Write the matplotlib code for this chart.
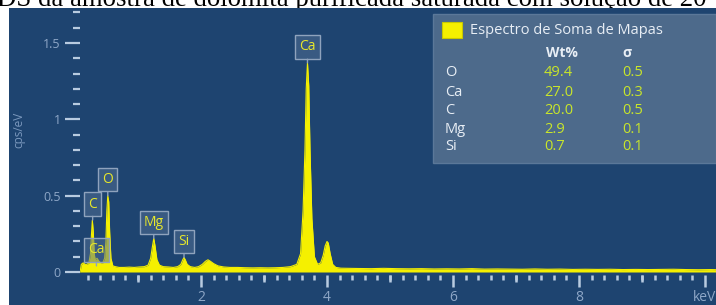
import matplotlib
matplotlib.use("Agg")
import matplotlib.pyplot as plt
from matplotlib.patches import Rectangle
from matplotlib.ticker import MultipleLocator, FuncFormatter

plt.rcParams['font.family'] = ['Open Sans', 'DejaVu Sans']

# spectrum (keV, cps/eV)
energy = [0.08, 0.10, 0.13, 0.16, 0.19, 0.22, 0.245, 0.26, 0.275, 0.29,
          0.305, 0.32, 0.35, 0.38, 0.41, 0.44, 0.47, 0.49, 0.505, 0.52,
          0.535, 0.55, 0.57, 0.60, 0.64, 0.70, 0.78, 0.86, 0.94, 1.02,
          1.10, 1.16, 1.20, 1.23, 1.25, 1.27, 1.30, 1.34, 1.40, 1.48,
          1.56, 1.63, 1.68, 1.71, 1.73, 1.75, 1.78, 1.83, 1.90, 1.96,
          2.02, 2.07, 2.11, 2.15, 2.20, 2.27, 2.36, 2.46, 2.58, 2.70,
          2.82, 2.94, 3.06, 3.18, 3.30, 3.42, 3.52, 3.58, 3.62, 3.65,
          3.67, 3.69, 3.71, 3.73, 3.76, 3.80, 3.85, 3.90, 3.94, 3.97,
          4.00, 4.02, 4.05, 4.09, 4.14, 4.22, 4.35, 4.50, 4.70, 4.90,
          5.10, 5.30, 5.50, 5.70, 5.90, 6.10, 6.30, 6.50, 6.70, 6.90,
          7.10, 7.30, 7.50, 7.70, 7.90, 8.10, 8.30, 8.50, 8.70, 8.90,
          9.10, 9.30, 9.50, 9.70, 9.90, 10.10, 10.20]
counts = [0.00, 0.05, 0.06, 0.05, 0.05, 0.06, 0.12, 0.24, 0.34, 0.26,
          0.12, 0.08, 0.09, 0.07, 0.06, 0.06, 0.09, 0.20, 0.40, 0.50,
          0.46, 0.26, 0.09, 0.04, 0.035, 0.03, 0.03, 0.032, 0.03, 0.033,
          0.035, 0.045, 0.09, 0.17, 0.22, 0.17, 0.08, 0.045, 0.035, 0.033,
          0.03, 0.035, 0.05, 0.08, 0.095, 0.08, 0.05, 0.035, 0.03, 0.035,
          0.05, 0.07, 0.08, 0.07, 0.055, 0.04, 0.033, 0.03, 0.03, 0.028,
          0.027, 0.028, 0.027, 0.028, 0.03, 0.035, 0.05, 0.12, 0.40, 0.80,
          1.20, 1.37, 1.22, 0.80, 0.35, 0.10, 0.05, 0.06, 0.11, 0.17,
          0.20, 0.19, 0.12, 0.05, 0.03, 0.025, 0.024, 0.023, 0.022, 0.024,
          0.022, 0.021, 0.022, 0.020, 0.021, 0.020, 0.022, 0.019, 0.020, 0.019,
          0.018, 0.020, 0.018, 0.019, 0.017, 0.018, 0.017, 0.018, 0.016, 0.017,
          0.016, 0.017, 0.018, 0.016, 0.015, 0.016, 0.015]

# peak markers
peak_names = ["C", "O", "Ca", "Mg", "Si", "Ca"]
peak_energy = [0.28, 0.52, 0.34, 1.25, 1.73, 3.69]
peak_top = [0.34, 0.50, 0.04, 0.22, 0.095, 1.37]

# quantification table
elements = ["O", "Ca", "C", "Mg", "Si"]
wt = [49.4, 27.0, 20.0, 2.9, 0.7]
sigma = [0.5, 0.3, 0.5, 0.1, 0.1]

caption = "DS da amostra de dolomita purificada saturada com solução de 20"

bg = "#1e4470"
yellow = "#f5f000"
tickcol = "#b8cbe0"
labcol = "#8ea7c7"

W, H = 716, 305
fig = plt.figure(figsize=(W / 100, H / 100), dpi=100)


def fx(x):
    return x / W


def fy(y):
    return 1 - y / H


# caption of the page, cut off at the top like in the screenshot
fig.text(fx(352), fy(6), caption, ha="center", va="baseline",
         family="Liberation Serif", fontsize=19.3, color="black", zorder=-2)
fig.add_artist(Rectangle((fx(9), 0), 1 - fx(9), fy(8), transform=fig.transFigure,
                         fc=bg, ec="none", zorder=-1))

ax = fig.add_axes([fx(80), fy(275), fx(716) - fx(80), (275 - 8) / H])
ax.patch.set_visible(False)
for s in ax.spines.values():
    s.set_visible(False)

ax.fill_between(energy, counts, 0, color=yellow, lw=0, zorder=2)
ax.plot(energy, counts, color=yellow, lw=0.8, zorder=2)

ax.set_xlim(0.079, 10.175)
ax.set_ylim(-0.0196, 1.729)

# y axis
ax.yaxis.set_major_locator(MultipleLocator(0.5))
ax.yaxis.set_minor_locator(MultipleLocator(0.1))
ax.yaxis.set_major_formatter(FuncFormatter(lambda v, p: "%g" % v))
ax.tick_params(axis="y", which="major", length=11, width=1.6, color=tickcol,
               labelcolor=labcol, labelsize=9, pad=3)
ax.tick_params(axis="y", which="minor", length=5, width=1.6, color=tickcol)
ax.set_ylabel("cps/eV", color="#7b98bd", fontsize=8.5)
ax.yaxis.set_label_coords(-0.0865, 0.543)

# x axis
ax.set_xticks([2, 4, 6, 8, 10])
ax.set_xticklabels(["2", "4", "6", "8", "keV"])
ax.xaxis.set_minor_locator(MultipleLocator(0.2))
ax.tick_params(axis="x", which="major", length=8.5, width=1.8, color=tickcol,
               labelcolor=labcol, labelsize=10, pad=2)
ax.tick_params(axis="x", which="minor", length=3.6, width=1.8, color=tickcol)
sec = ax.secondary_xaxis("bottom")
sec.set_xticks([1, 3, 5, 7, 9])
sec.tick_params(length=5.2, width=1.8, color=tickcol, labelbottom=False)
sec.spines["bottom"].set_visible(False)

# peak labels
for name, e, h in zip(peak_names, peak_energy, peak_top):
    ax.annotate(name, xy=(e, h), xytext=(0, 11.5), textcoords="offset points",
                ha="center", va="center", fontsize=10, color="#e8e82a", zorder=5,
                bbox=dict(boxstyle="square,pad=0.3", fc=(0.33, 0.44, 0.58, 0.5),
                          ec="#8fa3bd", lw=1),
                arrowprops=dict(arrowstyle="-", color="#8fa3bd", lw=1,
                                shrinkA=0, shrinkB=0))

# legend / results box
fig.add_artist(Rectangle((fx(433), fy(163)), fx(716) - fx(433), (163 - 14) / H,
                         transform=fig.transFigure, fc="#4d6a8b", ec="#5b7899",
                         lw=1, zorder=4))
fig.add_artist(Rectangle((fx(442), fy(38)), fx(20), 16 / H,
                         transform=fig.transFigure, fc=yellow, ec="#c8c800",
                         lw=0.8, zorder=5))
fig.text(fx(470), fy(31), "Espectro de Soma de Mapas", ha="left", va="center",
         fontsize=10.5, color="#e8eef5", zorder=6)
fig.text(fx(562), fy(53), "Wt%", ha="center", va="center", fontsize=10,
         fontweight="bold", color="#e8eef5", zorder=6)
fig.text(fx(627), fy(53), "σ", ha="center", va="center", fontsize=10,
         fontweight="bold", color="#e8eef5", zorder=6)
rows_y = [73, 92, 110, 129, 147]
for el, w, s, y in zip(elements, wt, sigma, rows_y):
    fig.text(fx(445), fy(y), el, ha="left", va="center", fontsize=10.5,
             color="#e8eef5", zorder=6)
    fig.text(fx(544), fy(y), "%.1f" % w, ha="left", va="center", fontsize=10.5,
             color="#c9e62a", zorder=6)
    fig.text(fx(622), fy(y), "%.1f" % s, ha="left", va="center", fontsize=10.5,
             color="#c9e62a", zorder=6)

fig.savefig("out.png", dpi=100)
